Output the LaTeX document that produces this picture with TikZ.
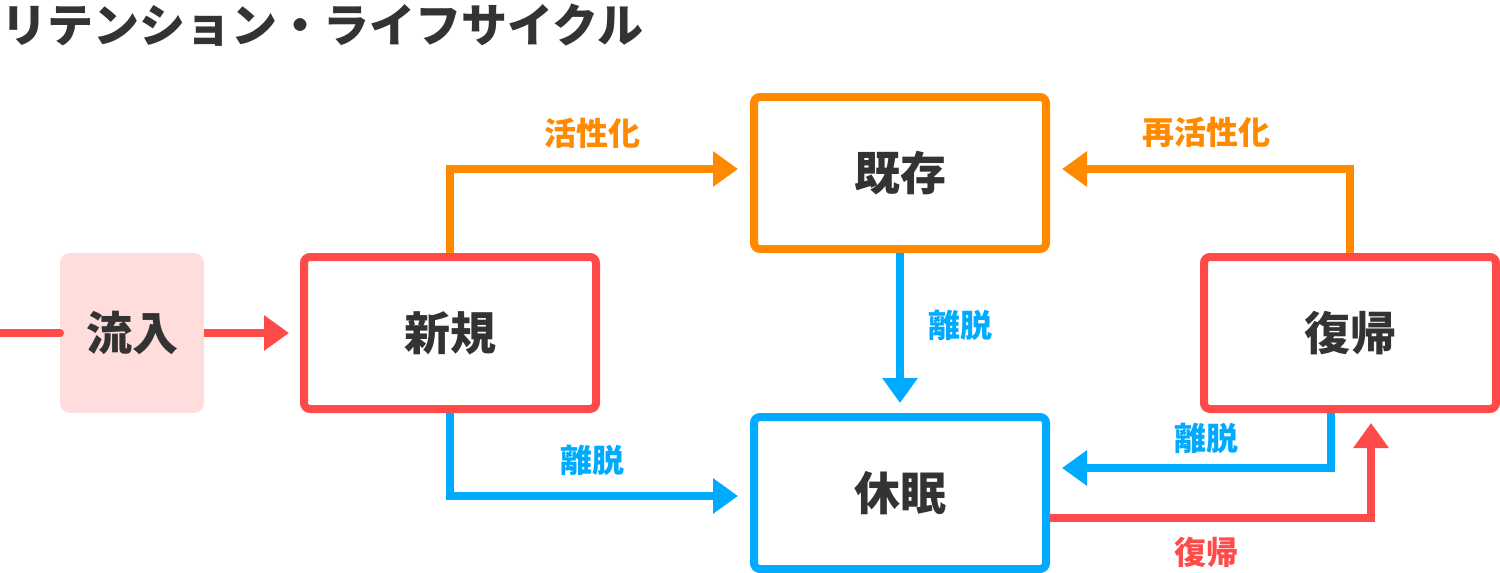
\documentclass[tikz,border=0pt]{standalone}
\usepackage{fontspec}
\setmainfont{Noto Sans CJK JP}
\usetikzlibrary{arrows.meta}
\definecolor{cred}{RGB}{255,74,74}
\definecolor{corange}{RGB}{255,138,0}
\definecolor{cblue}{RGB}{0,170,255}
\definecolor{cpink}{RGB}{255,221,221}
\definecolor{ctext}{RGB}{51,51,51}
\begin{document}
\begin{tikzpicture}[x=0.5pt,y=-0.5pt,
  box/.style={draw,line width=4pt,rounded corners=3pt,minimum width=146pt,minimum height=76pt,
    inner sep=0pt,text=ctext,font=\fontsize{23pt}{23pt}\selectfont\bfseries},
  flowbox/.style={fill=cpink,rounded corners=5pt,minimum width=72pt,minimum height=80pt,
    inner sep=0pt,outer sep=0pt,text=ctext,font=\fontsize{23pt}{23pt}\selectfont\bfseries},
  conn/.style={line width=4pt,-{Triangle[length=12.5pt,width=17pt]}},
  lbl/.style={font=\fontsize{16pt}{16pt}\selectfont\bfseries,inner sep=0pt},
  ttl/.style={font=\fontsize{23pt}{23pt}\selectfont\bfseries,text=ctext,inner sep=0pt}
]
\useasboundingbox (0,0) rectangle (1500,573);
\node[ttl,anchor=west] (title) at (1,25) {リテンション・ライフサイクル};

\node[flowbox] (inflow) at (132,333) {流入};
\node[box,draw=cred] (shinki) at (450,333) {新規};
\node[box,draw=corange] (kizon) at (900,173) {既存};
\node[box,draw=cblue] (kyumin) at (900,493) {休眠};
\node[box,draw=cred] (fukki) at (1350,333) {復帰};

\coordinate (src) at (0,333);
\draw[cred,line width=4pt,line cap=round] (src) -- (inflow.west);
\draw[conn,cred,shorten >=5.5pt] (inflow.east) -- (shinki.west);

\draw[conn,corange,shorten >=6pt] (shinki.north) |- ([yshift=2pt]kizon.west);
\draw[conn,cblue,shorten >=6pt] (shinki.south) |- ([yshift=-1.5pt]kyumin.west);
\draw[conn,cblue,shorten >=5pt] (kizon.south) -- (kyumin.north);
\draw[conn,corange,shorten >=6pt] (fukki.north) |- ([yshift=2pt]kizon.east);
\draw[conn,cblue,shorten >=6pt] ([xshift=-9.5pt]fukki.south) |- ([yshift=12.5pt]kyumin.east);
\draw[conn,cred,shorten >=5pt] ([yshift=-12.5pt]kyumin.east) -| ([xshift=10.5pt]fukki.south);

\node[lbl,text=corange] (l1) at (592,133) {活性化};
\node[lbl,text=cblue] (l2) at (592,460) {離脱};
\node[lbl,text=cblue] (l3) at (960,325) {離脱};
\node[lbl,text=corange] (l4) at (1206,132) {再活性化};
\node[lbl,text=cblue] (l5) at (1206,438) {離脱};
\node[lbl,text=cred] (l6) at (1206,552) {復帰};
\end{tikzpicture}
\end{document}
